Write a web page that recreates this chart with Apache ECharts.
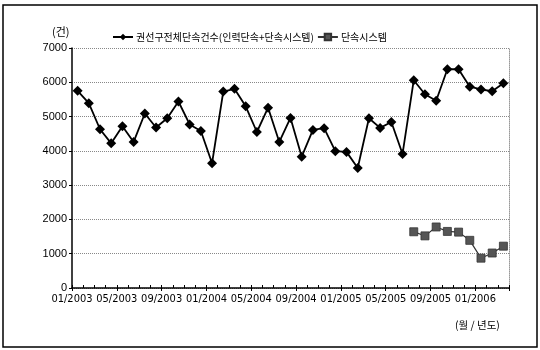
<!DOCTYPE html>
<html>
<head>
<meta charset="utf-8">
<script src="https://cdn.jsdelivr.net/npm/echarts@6/dist/echarts.min.js"></script>
<style>
  html, body { margin: 0; padding: 0; background: #fff; }
  #chart { width: 540px; height: 350px; }
</style>
</head>
<body>
<div id="chart"></div>
<script>
// Monthly enforcement counts, Jan 2003 – Mar 2006
const months = [
  '01/2003','02/2003','03/2003','04/2003','05/2003','06/2003','07/2003','08/2003','09/2003','10/2003','11/2003','12/2003',
  '01/2004','02/2004','03/2004','04/2004','05/2004','06/2004','07/2004','08/2004','09/2004','10/2004','11/2004','12/2004',
  '01/2005','02/2005','03/2005','04/2005','05/2005','06/2005','07/2005','08/2005','09/2005','10/2005','11/2005','12/2005',
  '01/2006','02/2006','03/2006'
];
const tickLabels = ['01/2003','05/2003','09/2003','01/2004','05/2004','09/2004','01/2005','05/2005','09/2005','01/2006'];
const totalName = '권선구전체단속건수(인력단속+단속시스템)';
const systemName = '단속시스템';
const totalCounts = [
  5750, 5390, 4630, 4220, 4720, 4260, 5090, 4680, 4950, 5440, 4770, 4580,
  3640, 5730, 5810, 5300, 4550, 5260, 4260, 4960, 3830, 4610, 4660, 3990,
  3970, 3500, 4950, 4670, 4840, 3910, 6060, 5650, 5460, 6380, 6380, 5870,
  5790, 5740, 5970
];
const systemCounts = [
  null, null, null, null, null, null, null, null, null, null, null, null,
  null, null, null, null, null, null, null, null, null, null, null, null,
  null, null, null, null, null, null, 1640, 1520, 1780, 1650, 1630, 1390,
  870, 1020, 1220
];
const yTicks = { min: 0, max: 7000, step: 1000 };

const chart = echarts.init(document.getElementById('chart'), null, { renderer: 'canvas' });

const numFont = '"Liberation Sans", Arial, sans-serif';
const narrowFont = '"Liberation Sans Narrow", "DejaVu Sans Condensed", "Liberation Sans", sans-serif';
const krFont = '"Noto Sans CJK KR", "Noto Sans", sans-serif';

chart.setOption({
  animation: false,
  backgroundColor: '#fff',
  grid: { left: 72, right: 31, top: 48, bottom: 62 },
  legend: {
    left: 107,
    top: 27,
    itemGap: 3,
    itemWidth: 20,
    itemHeight: 8,
    textStyle: { fontFamily: krFont, fontSize: 10, color: '#000', padding: [0, 0, 0, -2] },
    data: [totalName, systemName]
  },
  xAxis: [
    {
      type: 'category',
      data: months,
      boundaryGap: true,
      position: 'bottom',
      axisLine: { lineStyle: { color: '#000', width: 1.5 } },
      axisTick: { show: true, interval: 0, inside: true, length: 3, lineStyle: { color: '#000' } },
      axisLabel: { show: false },
      splitLine: { show: false }
    },
    {
      type: 'value',
      min: 0,
      max: months.length,
      interval: 4,
      position: 'bottom',
      axisLine: { show: false },
      axisTick: { show: true, length: 3, lineStyle: { color: '#000' } },
      axisLabel: {
        show: true,
        margin: 6,
        fontFamily: narrowFont,
        fontSize: 11,
        color: '#000',
        formatter: function (v) {
          return (v % 4 === 0 && tickLabels[v / 4]) ? tickLabels[v / 4] : '';
        }
      },
      splitLine: { show: false }
    }
  ],
  yAxis: [
    {
      type: 'value',
      min: yTicks.min,
      max: yTicks.max,
      interval: yTicks.step,
      axisLine: { show: true, lineStyle: { color: '#000', width: 1.5 } },
      axisTick: { show: true, length: 3, lineStyle: { color: '#000' } },
      axisLabel: {
        margin: 5, fontFamily: numFont, fontSize: 11, color: '#000',
        formatter: function (v) { return String(v); }
      },
      splitLine: { show: true, lineStyle: { color: '#888', type: 'dotted', width: 1 } }
    },
    {
      type: 'value',
      min: yTicks.min,
      max: yTicks.max,
      interval: yTicks.step,
      position: 'right',
      axisLine: { show: true, lineStyle: { color: '#999', type: 'dotted', width: 1 } },
      axisTick: { show: false },
      axisLabel: { show: false },
      splitLine: { show: false }
    }
  ],
  series: [
    {
      name: totalName,
      type: 'line',
      xAxisIndex: 0,
      yAxisIndex: 0,
      data: totalCounts,
      showSymbol: true,
      showAllSymbol: true,
      symbol: 'diamond',
      symbolSize: 10,
      itemStyle: { color: '#000' },
      lineStyle: { color: '#000', width: 1.8 },
      z: 3
    },
    {
      name: systemName,
      type: 'line',
      xAxisIndex: 0,
      yAxisIndex: 0,
      data: systemCounts,
      showSymbol: true,
      showAllSymbol: true,
      symbol: 'rect',
      symbolSize: 8,
      itemStyle: { color: '#555', borderColor: '#333', borderWidth: 0.8 },
      lineStyle: { color: '#333', width: 1.2 },
      z: 2
    }
  ],
  graphic: [
    {
      type: 'rect',
      shape: { x: 3, y: 5, width: 534, height: 342 },
      style: { fill: 'none', stroke: '#000', lineWidth: 1.5 },
      silent: true
    },
    {
      type: 'text',
      left: 52,
      top: 26,
      style: { text: '(건)', font: '11px "Noto Sans CJK KR", sans-serif', fill: '#000' }
    },
    {
      type: 'text',
      left: 455,
      top: 320,
      style: { text: '(월 / 년도)', font: '10.5px "Noto Sans CJK KR", sans-serif', fill: '#000' }
    }
  ]
});
</script>
</body>
</html>
